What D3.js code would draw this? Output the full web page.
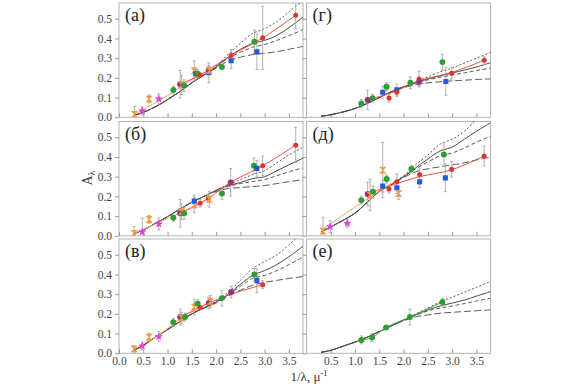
<!DOCTYPE html>
<html>
<head>
<meta charset="utf-8">
<script src="https://cdn.jsdelivr.net/npm/d3@7"></script>
<style>
  body { margin: 0; background: #fff; }
  svg text { font-family: "Liberation Serif", "Times New Roman", Times, "DejaVu Serif", serif; }
</style>
</head>
<body>
<div id="chart"></div>
<script>
// model curve grid (1/lambda, um^-1)
var gridX = [0.3, 0.5, 0.8, 1.0, 1.25, 1.5, 1.75, 2.0, 2.25, 2.5, 2.75, 3.0, 3.25, 3.5, 3.8];

// model curves per panel: solid, dotted, dashed, dash-dot
var curvesA = {
  solid:   [0.01, 0.025, 0.06, 0.09, 0.13, 0.175, 0.215, 0.255, 0.305, 0.345, 0.375, 0.39, 0.415, 0.455, 0.51],
  dotted:  [0.01, 0.025, 0.06, 0.09, 0.13, 0.175, 0.215, 0.26, 0.32, 0.375, 0.425, 0.45, 0.485, 0.535, 0.595],
  dashed:  [0.01, 0.025, 0.06, 0.09, 0.13, 0.175, 0.215, 0.255, 0.30, 0.33, 0.355, 0.37, 0.39, 0.415, 0.445],
  dashdot: [0.01, 0.025, 0.06, 0.09, 0.13, 0.175, 0.215, 0.25, 0.285, 0.305, 0.318, 0.325, 0.333, 0.345, 0.36]
};
var curvesB = {
  solid:   [0.01, 0.03, 0.07, 0.097, 0.135, 0.17, 0.2, 0.23, 0.255, 0.27, 0.29, 0.30, 0.33, 0.36, 0.395],
  dotted:  [0.01, 0.03, 0.07, 0.097, 0.135, 0.17, 0.2, 0.23, 0.26, 0.285, 0.31, 0.33, 0.37, 0.41, 0.45],
  dashed:  [0.01, 0.03, 0.07, 0.097, 0.135, 0.17, 0.2, 0.23, 0.25, 0.265, 0.275, 0.285, 0.305, 0.325, 0.345],
  dashdot: [0.01, 0.03, 0.07, 0.097, 0.135, 0.17, 0.2, 0.225, 0.24, 0.245, 0.25, 0.255, 0.265, 0.275, 0.285]
};
var curvesC = {
  solid:   [0.015, 0.04, 0.09, 0.12, 0.16, 0.2, 0.23, 0.26, 0.3, 0.35, 0.395, 0.42, 0.45, 0.49, 0.545],
  dotted:  [0.015, 0.04, 0.09, 0.12, 0.16, 0.2, 0.23, 0.265, 0.31, 0.37, 0.43, 0.465, 0.5, 0.55, 0.62],
  dashed:  [0.015, 0.04, 0.09, 0.12, 0.16, 0.2, 0.23, 0.26, 0.295, 0.34, 0.38, 0.395, 0.42, 0.45, 0.49],
  dashdot: [0.015, 0.04, 0.09, 0.12, 0.16, 0.2, 0.23, 0.255, 0.29, 0.32, 0.345, 0.36, 0.37, 0.38, 0.39]
};
var curvesD = {
  solid:   [0.005, 0.013, 0.03, 0.045, 0.07, 0.1, 0.13, 0.155, 0.175, 0.195, 0.21, 0.225, 0.24, 0.255, 0.278],
  dotted:  [0.005, 0.013, 0.03, 0.045, 0.07, 0.1, 0.13, 0.155, 0.18, 0.205, 0.23, 0.25, 0.275, 0.3, 0.33],
  dashed:  [0.005, 0.013, 0.03, 0.045, 0.07, 0.1, 0.13, 0.155, 0.173, 0.19, 0.203, 0.215, 0.225, 0.237, 0.25],
  dashdot: [0.005, 0.013, 0.03, 0.045, 0.07, 0.1, 0.13, 0.15, 0.165, 0.175, 0.18, 0.185, 0.188, 0.192, 0.195]
};
var curvesE = {
  solid:   [0.02, 0.045, 0.085, 0.115, 0.17, 0.225, 0.26, 0.3, 0.345, 0.39, 0.43, 0.45, 0.49, 0.53, 0.575],
  dotted:  [0.02, 0.045, 0.085, 0.115, 0.17, 0.225, 0.265, 0.305, 0.36, 0.41, 0.465, 0.49, 0.53, 0.59, 0.66],
  dashed:  [0.02, 0.045, 0.085, 0.115, 0.17, 0.225, 0.26, 0.3, 0.34, 0.375, 0.405, 0.42, 0.445, 0.475, 0.505],
  dashdot: [0.02, 0.045, 0.085, 0.115, 0.17, 0.225, 0.26, 0.295, 0.325, 0.34, 0.35, 0.36, 0.37, 0.385, 0.40]
};
var curvesF = {
  solid:   [0.005, 0.015, 0.04, 0.057, 0.082, 0.11, 0.14, 0.168, 0.195, 0.22, 0.24, 0.255, 0.27, 0.29, 0.314],
  dotted:  [0.005, 0.015, 0.04, 0.057, 0.082, 0.11, 0.14, 0.17, 0.2, 0.23, 0.26, 0.285, 0.31, 0.335, 0.365],
  dashed:  [0.005, 0.015, 0.04, 0.057, 0.082, 0.11, 0.14, 0.168, 0.193, 0.215, 0.23, 0.24, 0.252, 0.265, 0.28],
  dashdot: [0.005, 0.015, 0.04, 0.057, 0.082, 0.11, 0.14, 0.165, 0.185, 0.195, 0.203, 0.208, 0.212, 0.216, 0.22]
};

// observed points: [x, A, error, series]
// o = orange, m = magenta, g = green, r = red, b = blue, p = purple
var pointsA = [
  [0.32, 0.015, 0.04, 'o'], [0.48, 0.032, 0.02, 'm'], [0.62, 0.093, 0.02, 'o'], [0.82, 0.093, 0.025, 'm'],
  [1.12, 0.139, 0.02, 'g'], [1.26, 0.168, 0.07, 'p'], [1.29, 0.165, 0.05, 'o'], [1.34, 0.161, 0.03, 'g'],
  [1.55, 0.236, 0.05, 'o'], [1.58, 0.221, 0.02, 'b'], [1.62, 0.221, 0.02, 'g'], [1.67, 0.214, 0.01, 'r'],
  [1.84, 0.24, 0.02, 'r'], [1.85, 0.226, 0.05, 'b'], [1.86, 0.238, 0.02, 'o'], [2.12, 0.255, 0.01, 'g'],
  [2.31, 0.287, 0.04, 'b'], [2.31, 0.314, 0.03, 'r'], [2.79, 0.383, 0.06, 'g'], [2.84, 0.332, 0.09, 'b'],
  [2.96, 0.403, 0.16, 'r'], [3.64, 0.518, 0.07, 'r']
];
var pointsB = [
  [0.31, 0.012, 0.035, 'o'], [0.48, 0.02, 0.07, 'm'], [0.62, 0.083, 0.02, 'o'], [0.82, 0.06, 0.03, 'm'],
  [1.12, 0.092, 0.02, 'g'], [1.26, 0.114, 0.07, 'p'], [1.29, 0.122, 0.04, 'o'], [1.34, 0.114, 0.03, 'g'],
  [1.55, 0.156, 0.04, 'o'], [1.55, 0.176, 0.03, 'b'], [1.67, 0.165, 0.02, 'r'], [1.84, 0.19, 0.02, 'r'],
  [1.86, 0.186, 0.04, 'o'], [2.12, 0.215, 0.03, 'g'], [2.30, 0.271, 0.07, 'p'], [2.78, 0.355, 0.04, 'g'],
  [2.84, 0.342, 0.04, 'b'], [2.96, 0.355, 0.05, 'r'], [3.64, 0.46, 0.09, 'r']
];
var pointsC = [
  [0.31, 0.022, 0.015, 'o'], [0.48, 0.037, 0.02, 'm'], [0.62, 0.082, 0.02, 'o'], [0.82, 0.085, 0.025, 'm'],
  [1.12, 0.158, 0.02, 'g'], [1.26, 0.184, 0.04, 'p'], [1.29, 0.179, 0.03, 'o'], [1.36, 0.184, 0.02, 'g'],
  [1.55, 0.235, 0.04, 'o'], [1.62, 0.252, 0.02, 'g'], [1.67, 0.232, 0.01, 'r'], [1.85, 0.255, 0.03, 'p'],
  [1.88, 0.263, 0.03, 'o'], [2.12, 0.28, 0.04, 'g'], [2.31, 0.311, 0.03, 'p'], [2.79, 0.40, 0.03, 'g'],
  [2.84, 0.369, 0.06, 'b'], [2.96, 0.348, 0.02, 'r']
];
var pointsD = [
  [1.13, 0.07, 0.02, 'g'], [1.26, 0.088, 0.05, 'p'], [1.36, 0.097, 0.02, 'g'], [1.57, 0.127, 0.03, 'b'],
  [1.65, 0.155, 0.02, 'g'], [1.70, 0.098, 0.02, 'r'], [1.86, 0.139, 0.03, 'b'], [1.86, 0.127, 0.02, 'r'],
  [2.14, 0.175, 0.03, 'g'], [2.32, 0.194, 0.04, 'r'], [2.32, 0.18, 0.02, 'p'], [2.80, 0.28, 0.04, 'g'],
  [2.87, 0.182, 0.07, 'b'], [2.99, 0.224, 0.03, 'r'], [3.66, 0.289, 0.02, 'r']
];
var pointsE = [
  [0.34, 0.024, 0.07, 'o'], [0.49, 0.046, 0.03, 'm'], [0.84, 0.063, 0.02, 'm'], [1.13, 0.181, 0.02, 'g'],
  [1.26, 0.212, 0.06, 'p'], [1.31, 0.207, 0.08, 'o'], [1.37, 0.223, 0.03, 'g'], [1.57, 0.333, 0.14, 'o'],
  [1.57, 0.252, 0.03, 'b'], [1.65, 0.288, 0.02, 'g'], [1.70, 0.237, 0.02, 'r'], [1.86, 0.244, 0.03, 'b'],
  [1.86, 0.274, 0.04, 'r'], [1.90, 0.215, 0.03, 'o'], [2.16, 0.339, 0.02, 'g'], [2.33, 0.311, 0.05, 'r'],
  [2.33, 0.274, 0.03, 'b'], [2.83, 0.413, 0.06, 'g'], [2.86, 0.294, 0.07, 'b'], [2.99, 0.337, 0.04, 'r'],
  [3.66, 0.405, 0.05, 'r']
];
var pointsF = [
  [1.13, 0.068, 0.02, 'g'], [1.35, 0.08, 0.02, 'g'], [1.64, 0.131, 0.01, 'g'], [2.13, 0.184, 0.04, 'g'],
  [2.80, 0.26, 0.02, 'g']
];

// fitted lines drawn over the points
var redFitA = [[1.26, 0.168], [1.67, 0.214], [1.84, 0.24], [2.31, 0.314], [2.96, 0.403], [3.64, 0.518]];
var orangeFitA = [[0.32, 0.015], [1.0, 0.11], [1.55, 0.2], [1.86, 0.238]];
var redFitB = [[1.26, 0.114], [1.67, 0.165], [1.84, 0.19], [2.30, 0.271], [2.96, 0.355], [3.64, 0.46]];
var orangeFitB = [[0.31, 0.012], [1.29, 0.12], [1.86, 0.19]];
var redFitC = [[1.26, 0.184], [1.67, 0.232], [1.85, 0.255], [2.31, 0.30], [2.96, 0.348]];
var orangeFitC = [[0.31, 0.022], [0.8, 0.09], [1.29, 0.18], [1.88, 0.263]];
var redFitD = [[1.26, 0.088], [1.70, 0.12], [1.86, 0.135], [2.32, 0.185], [2.99, 0.228], [3.66, 0.289]];
var redFitE = [[1.26, 0.212], [1.86, 0.265], [2.33, 0.30], [2.99, 0.335], [3.66, 0.405]];
var orangeFitE = [[0.34, 0.035], [1.3, 0.195], [1.8, 0.272]];
var greenFitF = [[1.13, 0.068], [1.35, 0.08], [1.64, 0.131], [2.13, 0.184], [2.80, 0.26]];

var panelLabels = ["(а)", "(б)", "(в)", "(г)", "(д)", "(е)"];
var xTicks = [0, 0.5, 1, 1.5, 2, 2.5, 3, 3.5];
var yTicks = [0, 0.1, 0.2, 0.3, 0.4, 0.5];

var panels = [
  {label: panelLabels[0], col: 0, row: 0, curves: curvesA, points: pointsA, fits: [[orangeFitA, 'o'], [redFitA, 'r']]},
  {label: panelLabels[1], col: 0, row: 1, curves: curvesB, points: pointsB, fits: [[orangeFitB, 'o'], [redFitB, 'r']]},
  {label: panelLabels[2], col: 0, row: 2, curves: curvesC, points: pointsC, fits: [[orangeFitC, 'o'], [redFitC, 'r']]},
  {label: panelLabels[3], col: 1, row: 0, curves: curvesD, points: pointsD, fits: [[redFitD, 'r']]},
  {label: panelLabels[4], col: 1, row: 1, curves: curvesE, points: pointsE, fits: [[orangeFitE, 'o'], [redFitE, 'r']]},
  {label: panelLabels[5], col: 1, row: 2, curves: curvesF, points: pointsF, fits: [[greenFitF, 'g']]}
];

var W = 576, H = 384;
var colX = [119, 306.5],
    rowY = [3, 121.5, 239],
    pw = 184,
    ph = 114.3;
var serif = '"Liberation Serif", "Times New Roman", Times, serif';

var colors = {o: '#f39a45', m: '#e03ee0', g: '#2e9e34', r: '#e5332a', b: '#2358e0', p: '#9c2f7a'};
var lineColors = {o: '#f4a65a', r: '#e8504a', g: '#3fae3f'};
var dashes = {solid: null, dotted: '2,2', dashed: '4,2.5', dashdot: '7,3'};

var svg = d3.select("#chart").append("svg")
  .attr("width", W)
  .attr("height", H)
  .style("font-family", serif);

var x = d3.scaleLinear().domain([0, 3.79]).range([0, pw]);
var y = d3.scaleLinear().domain([0, 0.58]).range([ph, 0]);

var line = d3.line().x(d => x(d[0])).y(d => y(d[1])).curve(d3.curveCatmullRom);

var bowtie = "M-3,-3L3,-3L-3,3L3,3Z";

panels.forEach(function (p, i) {
  var g = svg.append("g")
    .attr("transform", `translate(${colX[p.col]},${rowY[p.row]})`);

  g.append("clipPath").attr("id", "clip" + i)
    .append("rect").attr("width", pw).attr("height", ph);

  // frame
  g.append("rect")
    .attr("width", pw).attr("height", ph)
    .attr("fill", "none").attr("stroke", "#b4b4b4").attr("stroke-width", 1);

  // y axis: ticks outside, labels only on the left column
  var yAxis = d3.axisLeft(y).tickValues(yTicks).tickSize(4)
    .tickFormat(p.col === 0 ? d3.format(".1f") : "");
  var ya = g.append("g").call(yAxis).attr("font-family", null);
  ya.select(".domain").remove();
  ya.selectAll("line").attr("stroke", "#9a9a9a");
  ya.selectAll("text").attr("font-size", 11.5).attr("fill", "#444")
    .style("font-family", serif);

  // x axis: ticks inside, labels only on the bottom row
  var xVals = p.col === 1 ? xTicks.slice(1) : xTicks;
  var xAxis = d3.axisBottom(x).tickValues(xVals).tickSize(-4).tickPadding(4)
    .tickFormat(p.row === 2 ? d3.format(".1f") : "");
  var xa = g.append("g").attr("transform", `translate(0,${ph})`).call(xAxis).attr("font-family", null);
  xa.select(".domain").remove();
  xa.selectAll("line").attr("stroke", "#9a9a9a");
  xa.selectAll("text").attr("font-size", 11.5).attr("fill", "#444")
    .style("font-family", serif);

  var plot = g.append("g").attr("clip-path", `url(#clip${i})`);

  // model curves
  ["dashdot", "dashed", "dotted", "solid"].forEach(function (k) {
    var pts = gridX.map((gx, j) => [gx, p.curves[k][j]]);
    plot.append("path")
      .attr("d", line(pts))
      .attr("fill", "none")
      .attr("stroke", k === "solid" ? "#4a4a4a" : "#5a5a5a")
      .attr("stroke-width", 1)
      .attr("stroke-dasharray", dashes[k]);
  });

  // error bars
  var eb = plot.selectAll("g.err").data(p.points).join("g").attr("class", "err");
  eb.append("line")
    .attr("x1", d => x(d[0])).attr("x2", d => x(d[0]))
    .attr("y1", d => y(d[1] - d[2])).attr("y2", d => y(d[1] + d[2]))
    .attr("stroke", "#a8a8a8").attr("stroke-width", 0.9);
  [-1, 1].forEach(function (s) {
    eb.append("line")
      .attr("x1", d => x(d[0]) - 1.5).attr("x2", d => x(d[0]) + 1.5)
      .attr("y1", d => y(d[1] + s * d[2])).attr("y2", d => y(d[1] + s * d[2]))
      .attr("stroke", "#a8a8a8").attr("stroke-width", 0.9);
  });

  // fitted lines
  p.fits.forEach(function (f) {
    plot.append("path")
      .attr("d", line(f[0]))
      .attr("fill", "none")
      .attr("stroke", lineColors[f[1]])
      .attr("stroke-width", 1);
  });

  // markers
  plot.selectAll("path.pt").data(p.points).join("path")
    .attr("class", "pt")
    .attr("transform", d => `translate(${x(d[0])},${y(d[1])})`)
    .attr("d", function (d) {
      if (d[3] === 'o') return bowtie;
      if (d[3] === 'm') return d3.symbol(d3.symbolStar, 14)();
      if (d[3] === 'b') return d3.symbol(d3.symbolSquare, 26)();
      if (d[3] === 'r') return d3.symbol(d3.symbolCircle, 20)();
      return d3.symbol(d3.symbolCircle, 28)();
    })
    .attr("fill", d => colors[d[3]])
    .attr("stroke", d => d[3] === 'o' || d[3] === 'm' ? colors[d[3]] : "none")
    .attr("stroke-width", 0.8);

  // panel label
  g.append("text")
    .attr("x", 6).attr("y", 18)
    .attr("font-size", 18)
    .attr("fill", "#222")
    .style("font-family", serif)
    .text(p.label);
});

// axis titles
var yt = svg.append("text")
  .attr("transform", "translate(92,178) rotate(-90)")
  .attr("text-anchor", "middle")
  .attr("font-size", 14)
  .attr("fill", "#333")
  .style("font-family", serif);
yt.append("tspan").text("A");
yt.append("tspan").attr("font-size", 10).attr("dy", 3).text("λ");

var xt = svg.append("text")
  .attr("x", 309).attr("y", 381)
  .attr("text-anchor", "middle")
  .attr("font-size", 13)
  .attr("fill", "#333")
  .style("font-family", serif);
xt.append("tspan").text("1/λ, μ");
xt.append("tspan").attr("font-size", 8.5).attr("dy", -5).text("-1");
</script>
</body>
</html>
